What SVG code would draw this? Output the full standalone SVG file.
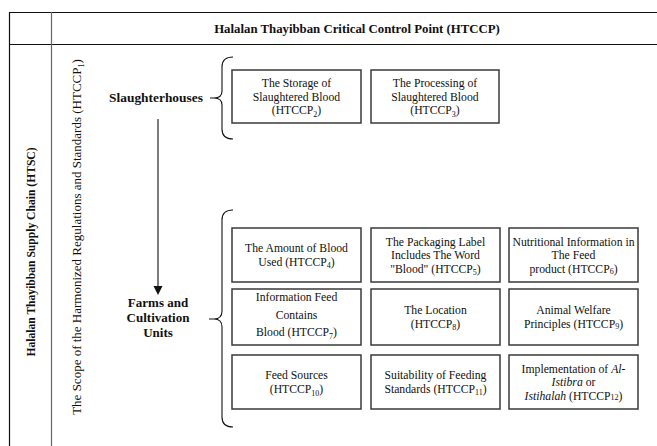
<svg xmlns="http://www.w3.org/2000/svg" width="657" height="446" viewBox="0 0 657 446">
<style>
text{font-family:'Liberation Serif','DejaVu Serif',serif;fill:#111;}
.t{font-size:11.7px;text-anchor:middle;}
.b{font-weight:bold;}
.box{fill:#fff;stroke:#3a3a3a;stroke-width:1.5;}
.tbl{stroke:#111;stroke-width:1.2;fill:none;}
.br{fill:none;stroke:#111;stroke-width:1.1;}
.sub{font-size:8px;}
.i{font-style:italic;}
</style>
<rect width="657" height="446" fill="#fff"/>
<g id="table">
<line class="tbl" x1="9" y1="12.5" x2="657" y2="12.5"/>
<line class="tbl" x1="9" y1="44.5" x2="657" y2="44.5"/>
<line class="tbl" x1="9.5" y1="12" x2="9.5" y2="446"/>
<line x1="51.5" y1="12" x2="51.5" y2="446" stroke="#666" stroke-width="1.2"/>
<text class="t b" style="font-size:12.8px" x="357" y="33">Halalan Thayibban Critical Control Point (HTCCP)</text>
<text class="t b" style="font-size:11.6px" transform="translate(35 252) rotate(-90)">Halalan Thayibban Supply Chain (HTSC)</text>
<text class="t" style="font-size:13px" transform="translate(81 237) rotate(-90)">The Scope of the Harmonized Regulations and Standards (HTCCP<tspan class="sub" dy="3">1</tspan><tspan dy="-3">)</tspan></text>
</g>
<g id="slaughterhouses">
<text class="t b" style="font-size:13.4px" x="156" y="102">Slaughterhouses</text>
</g>
<g id="farms">
<text class="t b" style="font-size:13px" x="158" y="307">Farms and</text>
<text class="t b" style="font-size:13px" x="158" y="322">Cultivation</text>
<text class="t b" style="font-size:13px" x="158" y="337">Units</text>
</g>
<g id="connectors">
<line x1="158" y1="119" x2="158" y2="289" stroke="#111" stroke-width="1.1"/>
<path d="M153.5,286 L162.5,286 L158,295 Z" fill="#111"/>
<path class="br" d="M233,57 Q222,57 222,67 L222,91 Q222,98 214,98 L210,98 M214,98 Q222,98 222,105 L222,129 Q222,139 233,139"/>
<path class="br" d="M233,210 Q222,210 222,220 L222,311 Q222,319 214,319 L209,319 M214,319 Q222,319 222,327 L222,417 Q222,427 233,427"/>
</g>
<g id="htccp2">
<rect class="box" x="232" y="70" width="129" height="53"/>
<text class="t" x="296.5" y="87">The Storage of</text>
<text class="t" x="296.5" y="100.5">Slaughtered Blood</text>
<text class="t" x="296.5" y="114">(HTCCP<tspan class="sub" dy="2.5">2</tspan><tspan dy="-2.5">)</tspan></text>
</g>
<g id="htccp3">
<rect class="box" x="371" y="70" width="128" height="53"/>
<text class="t" x="435" y="87">The Processing of</text>
<text class="t" x="435" y="100.5">Slaughtered Blood</text>
<text class="t" x="435" y="114">(HTCCP<tspan class="sub" dy="2.5">3</tspan><tspan dy="-2.5">)</tspan></text>
</g>
<g id="htccp4">
<rect class="box" x="232" y="228" width="129" height="54"/>
<text class="t" x="296.5" y="252">The Amount of Blood</text>
<text class="t" x="296.5" y="266">Used (HTCCP<tspan class="sub" dy="2">4</tspan><tspan dy="-2">)</tspan></text>
</g>
<g id="htccp5">
<rect class="box" x="371" y="228" width="129" height="54"/>
<text class="t" x="435.5" y="245.5">The Packaging Label</text>
<text class="t" x="435.5" y="259">Includes The Word</text>
<text class="t" x="435.5" y="272.5">"Blood" (HTCCP<tspan class="sub" dy="2">5</tspan><tspan dy="-2">)</tspan></text>
</g>
<g id="htccp6">
<rect class="box" x="509" y="228" width="129" height="54"/>
<text class="t" x="573.5" y="245.5">Nutritional Information in</text>
<text class="t" x="573.5" y="259">The Feed</text>
<text class="t" x="573.5" y="272.5">product (HTCCP<tspan class="sub" dy="1.5">6</tspan><tspan dy="-1.5">)</tspan></text>
</g>
<g id="htccp7">
<rect class="box" x="232" y="289" width="129" height="56"/>
<text class="t" x="296.5" y="301">Information Feed</text>
<text class="t" x="296.5" y="318.5">Contains</text>
<text class="t" x="296.5" y="336">Blood (HTCCP<tspan class="sub" dy="2.5">7</tspan><tspan dy="-2.5">)</tspan></text>
</g>
<g id="htccp8">
<rect class="box" x="371" y="289" width="129" height="56"/>
<text class="t" x="435.5" y="314">The Location</text>
<text class="t" x="435.5" y="328">(HTCCP<tspan class="sub" dy="1.5">8</tspan><tspan dy="-1.5">)</tspan></text>
</g>
<g id="htccp9">
<rect class="box" x="509" y="289" width="129" height="56"/>
<text class="t" x="573.5" y="314">Animal Welfare</text>
<text class="t" x="573.5" y="328">Principles (HTCCP<tspan class="sub" dy="1">9</tspan><tspan dy="-1">)</tspan></text>
</g>
<g id="htccp10">
<rect class="box" x="232" y="355" width="129" height="54"/>
<text class="t" x="296.5" y="379">Feed Sources</text>
<text class="t" x="296.5" y="393">(HTCCP<tspan class="sub" dy="2.5">10</tspan><tspan dy="-2.5">)</tspan></text>
</g>
<g id="htccp11">
<rect class="box" x="371" y="355" width="129" height="54"/>
<text class="t" x="435.5" y="379">Suitability of Feeding</text>
<text class="t" x="435.5" y="393">Standards (HTCCP<tspan class="sub" dy="1.5">11</tspan><tspan dy="-1.5">)</tspan></text>
</g>
<g id="htccp12">
<rect class="box" x="509" y="355" width="129" height="54"/>
<text class="t" x="573.5" y="372.5">Implementation of <tspan class="i">Al-</tspan></text>
<text class="t" x="573.5" y="386"><tspan class="i">Istibra</tspan> or</text>
<text class="t" x="573.5" y="399.5"><tspan class="i">Istihalah</tspan> (HTCCP<tspan class="sub" dy="0.5">12</tspan><tspan dy="-0.5">)</tspan></text>
</g>
</svg>
